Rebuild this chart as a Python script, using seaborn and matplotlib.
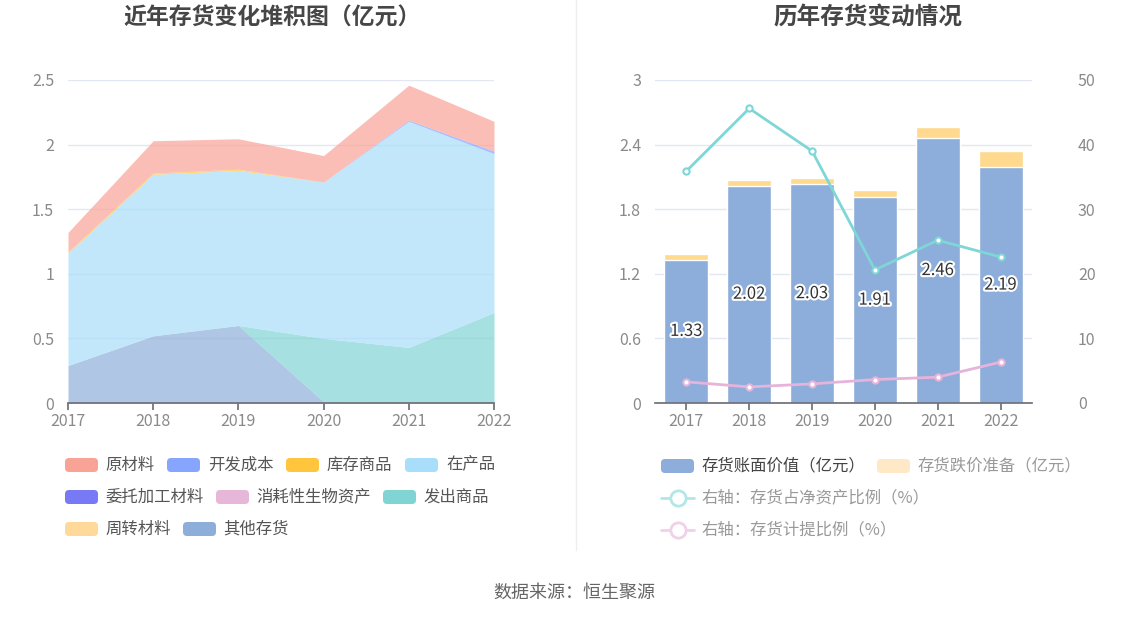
import numpy as np
import pandas as pd
import matplotlib.pyplot as plt
import matplotlib.patheffects as pe
from matplotlib.patches import FancyBboxPatch
from matplotlib.lines import Line2D
import seaborn as sns

# ---- data ----
years = [2017, 2018, 2019, 2020, 2021, 2022]

# left chart: inventory components (亿元), stacked bottom -> top
other_inv = [0.29, 0.52, 0.60, 0.01, 0.00, 0.00]      # 其他存货
turnover_mat = [0.00, 0.00, 0.00, 0.00, 0.00, 0.00]   # 周转材料
goods_shipped = [0.00, 0.00, 0.00, 0.49, 0.43, 0.70]  # 发出商品
bio_assets = [0.00, 0.00, 0.00, 0.00, 0.00, 0.00]     # 消耗性生物资产
consigned = [0.00, 0.00, 0.00, 0.00, 0.00, 0.00]      # 委托加工材料
wip = [0.87, 1.25, 1.20, 1.21, 1.75, 1.23]            # 在产品
stock_goods = [0.01, 0.01, 0.01, 0.00, 0.00, 0.00]    # 库存商品
dev_cost = [0.00, 0.00, 0.00, 0.00, 0.01, 0.02]       # 开发成本
raw_mat = [0.15, 0.25, 0.235, 0.205, 0.27, 0.23]      # 原材料

# right chart
book_value = [1.33, 2.02, 2.03, 1.91, 2.46, 2.19]     # 存货账面价值
impairment = [0.05, 0.05, 0.06, 0.07, 0.10, 0.15]     # 存货跌价准备
ratio_net_assets = [35.9, 45.6, 39.0, 20.6, 25.2, 22.6]  # 存货占净资产比例
ratio_provision = [3.27, 2.49, 2.96, 3.63, 4.0, 6.33]    # 存货计提比例

sns.set_theme(style="white")
plt.rcParams['font.family'] = ['Noto Sans CJK SC', 'DejaVu Sans']
plt.rcParams['axes.unicode_minus'] = False

W, H = 1148, 619
fig = plt.figure(figsize=(W / 100, H / 100), dpi=100)

def fig_rect(x0, y_top, x1, y_bot):
    return [x0 / W, 1 - y_bot / H, (x1 - x0) / W, (y_bot - y_top) / H]

tick_color = '#8a8a8a'
grid_color = '#e3e7f2'
axis_color = '#6e7079'
tick_size = 11.5
legend_size = 11.8

# ---- left: stacked area ----
stack = [
    ('其他存货', other_inv, '#8eaeda'),
    ('周转材料', turnover_mat, '#ffd999'),
    ('发出商品', goods_shipped, '#80d4d4'),
    ('消耗性生物资产', bio_assets, '#e7b7da'),
    ('委托加工材料', consigned, '#7779f5'),
    ('在产品', wip, '#a8def9'),
    ('库存商品', stock_goods, '#ffc53d'),
    ('开发成本', dev_cost, '#86a5ff'),
    ('原材料', raw_mat, '#f9a397'),
]
ax1 = fig.add_axes(fig_rect(68, 80, 494, 403))
base = np.zeros(len(years))
for name, vals, col in stack:
    top = base + np.array(vals)
    ax1.fill_between(years, base, top, color=col, alpha=0.7, linewidth=0)
    base = top
ax1.set_xlim(years[0], years[-1])
ax1.set_ylim(0, 2.5)
ax1.set_yticks([0, 0.5, 1, 1.5, 2, 2.5])
ax1.set_yticklabels(['0', '0.5', '1', '1.5', '2', '2.5'])
ax1.set_xticks(years)
ax1.set_xticklabels([str(y) for y in years])
ax1.grid(axis='y', color=grid_color, linewidth=1)
ax1.set_axisbelow(True)
for s in ['top', 'right', 'left']:
    ax1.spines[s].set_visible(False)
ax1.spines['bottom'].set_color(axis_color)
ax1.tick_params(axis='x', colors=tick_color, labelsize=tick_size, length=5, color=axis_color, bottom=True, pad=2)
ax1.tick_params(axis='y', colors=tick_color, labelsize=tick_size, length=0, pad=10)

# ---- right: bars + lines ----
ax2 = fig.add_axes(fig_rect(655, 80, 1032, 403))
cat = [str(y) for y in years]
total = [b + i for b, i in zip(book_value, impairment)]
df = pd.DataFrame({'year': cat, 'book': book_value, 'total': total})
sns.barplot(data=df, x='year', y='total', color='#ffd98e', width=0.7, saturation=1, ax=ax2)
sns.barplot(data=df, x='year', y='book', color='#8dadda', width=0.7, saturation=1, ax=ax2)
for i, v in enumerate(book_value):
    ax2.text(i, v / 2, f'{v:.2f}', ha='center', va='center', fontsize=12, color='#333333',
             path_effects=[pe.withStroke(linewidth=3, foreground='white')], zorder=5)
ax2.set_xlim(-0.5, len(years) - 0.5)
ax2.set_ylim(0, 3)
ax2.set_yticks([0, 0.6, 1.2, 1.8, 2.4, 3])
ax2.set_yticklabels(['0', '0.6', '1.2', '1.8', '2.4', '3'])
ax2.set_xlabel('')
ax2.set_ylabel('')
ax2.grid(axis='y', color=grid_color, linewidth=1)
ax2.set_axisbelow(True)
for s in ['top', 'right', 'left']:
    ax2.spines[s].set_visible(False)
ax2.spines['bottom'].set_color(axis_color)
ax2.tick_params(axis='x', colors=tick_color, labelsize=tick_size, length=5, color=axis_color, bottom=True, pad=2)
ax2.tick_params(axis='y', colors=tick_color, labelsize=tick_size, length=0, pad=10)

ax3 = ax2.twinx()
idx = np.arange(len(years))
ldf = pd.DataFrame({'x': idx, 'a': ratio_net_assets, 'b': ratio_provision})
sns.lineplot(data=ldf, x='x', y='a', color='#7fd6d6', linewidth=2, marker='o', markersize=4.5,
             markerfacecolor='white', markeredgecolor='#7fd6d6', markeredgewidth=1.5, ax=ax3)
sns.lineplot(data=ldf, x='x', y='b', color='#e6b3da', linewidth=2, marker='o', markersize=4.5,
             markerfacecolor='white', markeredgecolor='#e6b3da', markeredgewidth=1.5, ax=ax3)
ax3.set_ylim(0, 50)
ax3.set_yticks([0, 10, 20, 30, 40, 50])
ax3.set_xlabel('')
ax3.set_ylabel('')
for s in ['top', 'right', 'left', 'bottom']:
    ax3.spines[s].set_visible(False)
ax3.tick_params(axis='y', colors=tick_color, labelsize=tick_size, length=0, pad=33)
ax3.grid(False)

# ---- overlay: titles, legends, source ----
ov = fig.add_axes([0, 0, 1, 1], zorder=-1)
ov.set_xlim(0, W)
ov.set_ylim(H, 0)
ov.axis('off')

ov.text(272, 18, '近年存货变化堆积图（亿元）', ha='center', va='center', fontsize=16.5,
        fontweight='bold', color='#464646')
ov.text(868, 18, '历年存货变动情况', ha='center', va='center', fontsize=17,
        fontweight='bold', color='#464646')
ov.plot([576, 576], [0, 550], color='#eeeeee', linewidth=1)
ov.text(574, 593, '数据来源：恒生聚源', ha='center', va='center', fontsize=13, color='#666666')

def patch(x, y, col):
    ov.add_patch(FancyBboxPatch((x, y - 7), 33, 14, boxstyle='round,pad=0,rounding_size=4',
                                facecolor=col, edgecolor='none'))

legend_color = {n: c for n, _, c in stack}
left_items = [
    ('原材料', 65, 105, 465), ('开发成本', 167, 208, 465), ('库存商品', 286, 327, 465),
    ('在产品', 405, 446, 465),
    ('委托加工材料', 65, 105, 497), ('消耗性生物资产', 216, 256, 497), ('发出商品', 383, 423, 497),
    ('周转材料', 65, 105, 529), ('其他存货', 183, 223, 529),
]
for name, px, tx, y in left_items:
    patch(px, y, legend_color[name])
    ov.text(tx, y, name, ha='left', va='center', fontsize=legend_size, color='#555555')

patch(661, 466, '#8dadda')
ov.text(701, 466, '存货账面价值（亿元）', ha='left', va='center', fontsize=legend_size, color='#444444')
patch(877, 466, '#ffe8c6')
ov.text(917, 466, '存货跌价准备（亿元）', ha='left', va='center', fontsize=legend_size, color='#999999')
for y, col, label in [(498, '#b3e6e6', '右轴：存货占净资产比例（%）'),
                      (530, '#f0d1e9', '右轴：存货计提比例（%）')]:
    ov.add_line(Line2D([661, 694], [y, y], color=col, linewidth=2))
    ov.add_line(Line2D([677.5], [y], marker='o', markersize=11, markerfacecolor='white',
                       markeredgecolor=col, markeredgewidth=2))
    ov.text(701, y, label, ha='left', va='center', fontsize=legend_size, color='#999999')

fig.savefig('out.png', dpi=100, facecolor='white')
